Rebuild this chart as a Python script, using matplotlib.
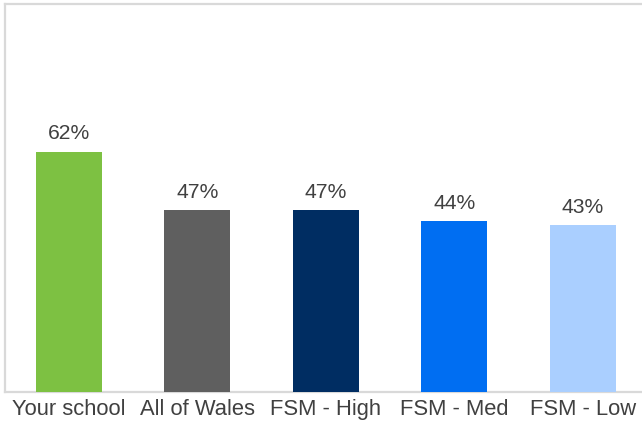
import matplotlib
matplotlib.use("Agg")
import matplotlib.pyplot as plt

categories = ["Your school", "All of Wales", "FSM - High", "FSM - Med", "FSM - Low"]
values = [62, 47, 47, 44, 43]
colors = ["#7DC142", "#5F5F5F", "#002D62", "#006EF2", "#AACFFF"]

plt.rcParams["font.family"] = ["Liberation Sans", "DejaVu Sans"]
text_color = "#404040"
frame_color = "#D9D9D9"

W, H = 642, 423
fig = plt.figure(figsize=(W / 100, H / 100), dpi=100)
left, right, top, bottom = 4.8, 646.8, 4.5, 392
ax = fig.add_axes([left / W, (H - bottom) / H, (right - left) / W, (bottom - top) / H])

x = range(len(categories))
bars = ax.bar(x, values, width=0.515, color=colors, zorder=3)
ax.set_xlim(-0.5, len(categories) - 0.5)
ax.set_ylim(0, 100)

for b, v in zip(bars, values):
    ax.annotate(f"{v}%", (b.get_x() + b.get_width() / 2, v),
                xytext=(0, 6), textcoords="offset points",
                ha="center", va="bottom", fontsize=15.2, color=text_color)

ax.set_xticks(list(x))
ax.set_xticklabels(categories, fontsize=15.8, color=text_color)
ax.tick_params(axis="x", length=0, pad=5)
ax.set_yticks([])

for side in ["left", "top", "bottom"]:
    ax.spines[side].set_color(frame_color)
    ax.spines[side].set_linewidth(1.6)
    ax.spines[side].set_zorder(1)
ax.spines["right"].set_visible(False)

fig.savefig("out.png", dpi=100)
